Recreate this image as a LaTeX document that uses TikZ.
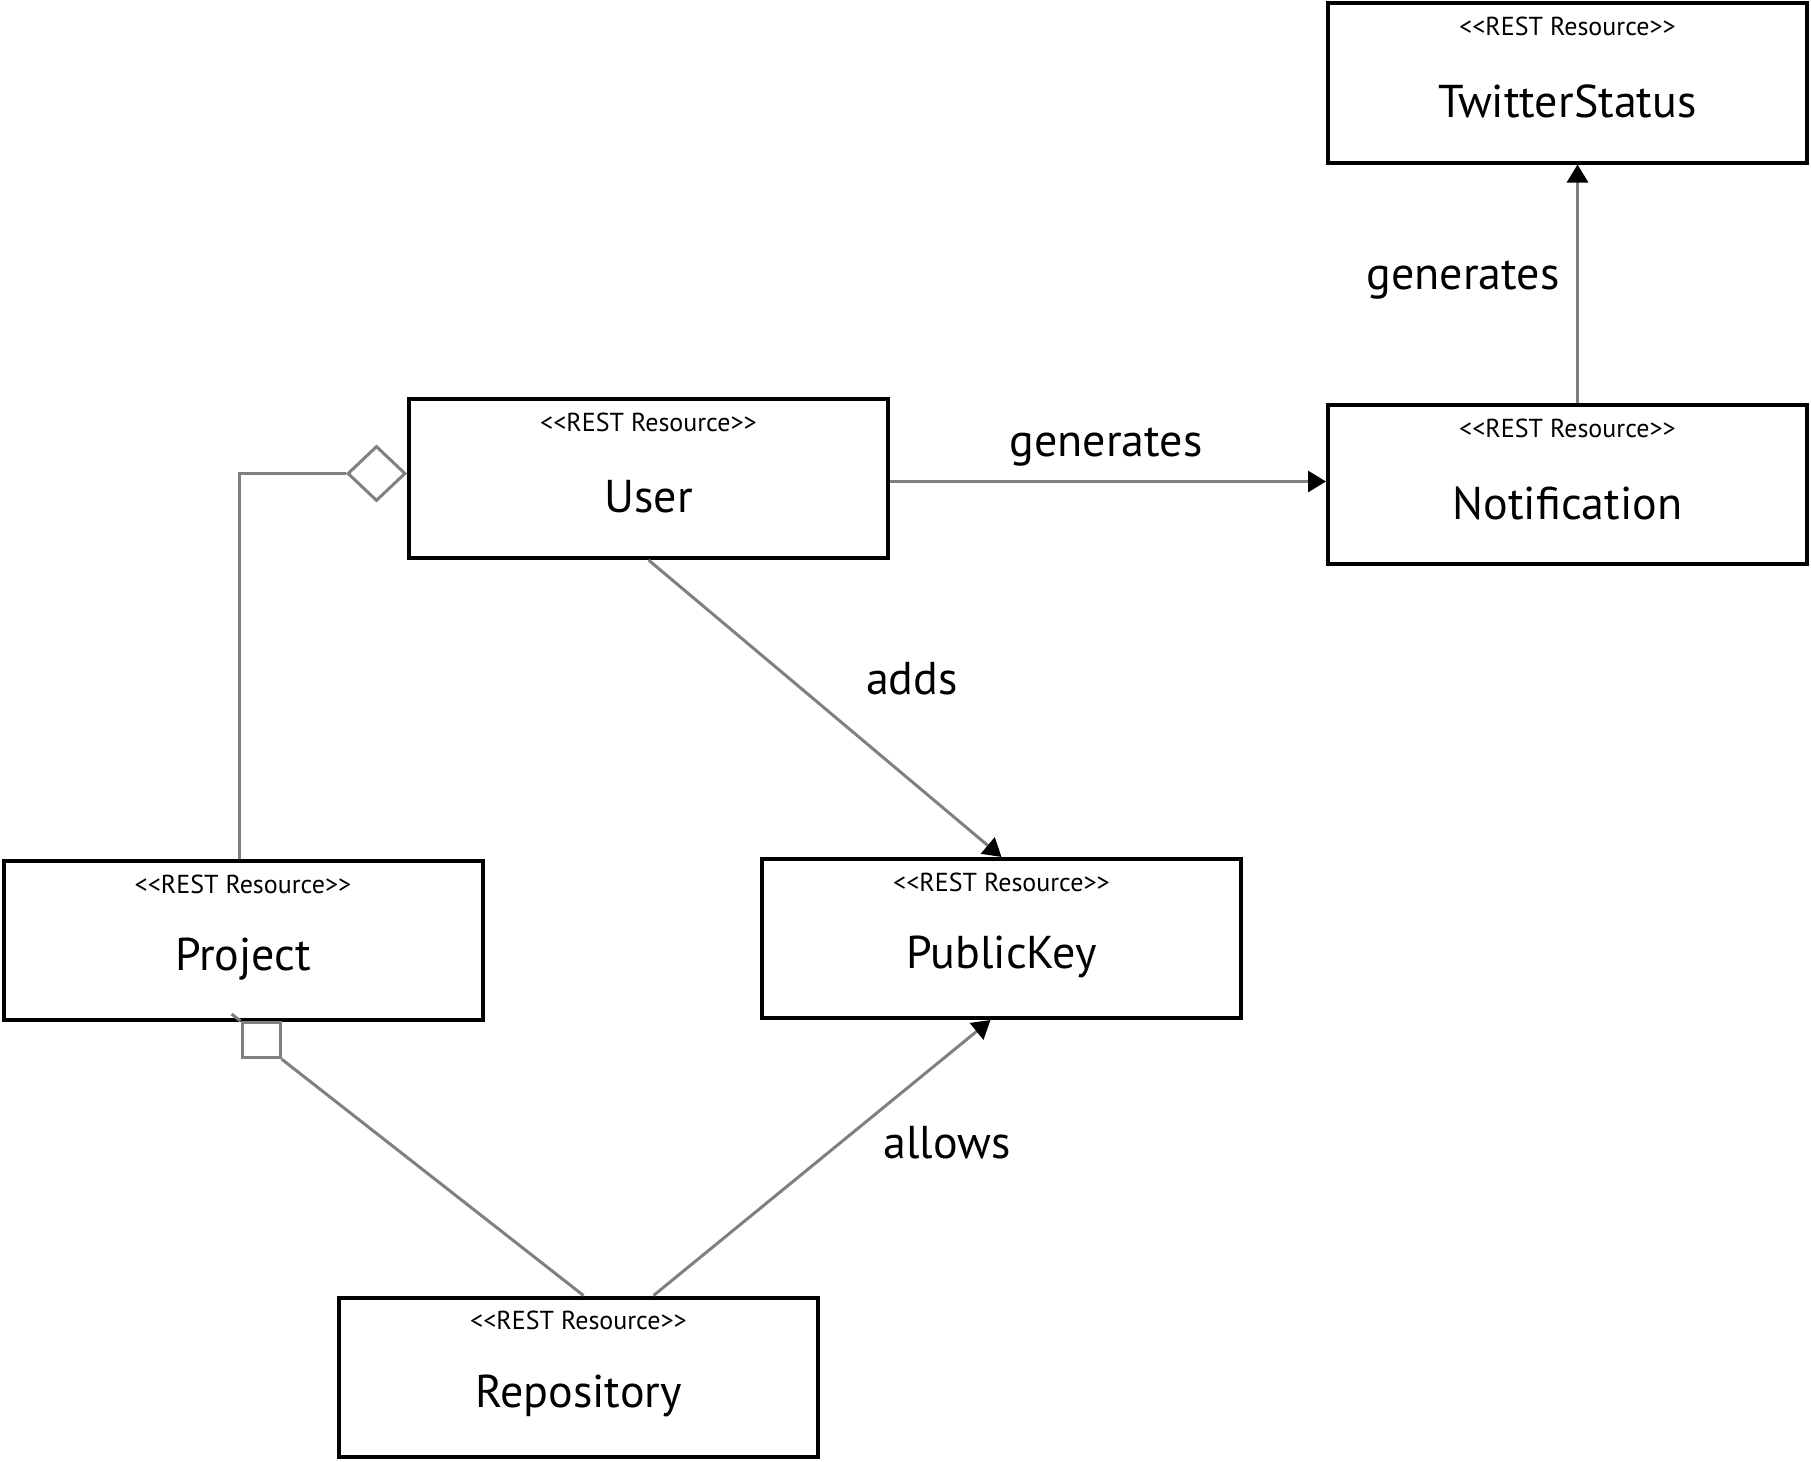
\documentclass[tikz,border=0pt]{standalone}
\usepackage{fontspec}
\setmainfont{PT Sans}
\usetikzlibrary{arrows.meta,calc,shapes.geometric}
\definecolor{cLine}{RGB}{128,128,130}
\definecolor{cBox}{RGB}{0,0,0}

% box with stereotype and title
\newcommand{\resource}[4]{%
  \node[rbox] (#1) at (#2,#3) {};
  \node[stereo] (#1S) at ($(#1.north)+(0,25)$) {<{}<REST Resource>{}>};
  \node[rtitle] (#1T) at ($(#1.north)+(0,100)$) {#4};
}

\begin{document}
\begin{tikzpicture}[x=1pt,y=-1pt,
  rbox/.style={draw=cBox,line width=4pt,minimum width=479pt,minimum height=159pt,inner sep=0pt},
  stereo/.style={font=\fontsize{26}{28}\selectfont,inner sep=0pt},
  rtitle/.style={font=\fontsize{46}{50}\selectfont,inner sep=0pt},
  lbl/.style={font=\fontsize{46}{50}\selectfont,inner sep=0pt},
  conn/.style={draw=cLine,line width=3pt},
  arr/.style={conn,-{Triangle[length=18pt,width=21pt,color=black]}},
  agg/.style={diamond,draw=cLine,line width=3pt,minimum width=58pt,minimum height=55pt,inner sep=0pt},
  comp/.style={rectangle,draw=cLine,line width=3pt,minimum width=38pt,minimum height=35pt,inner sep=0pt}]
\useasboundingbox (0,0) rectangle (1811,1461);

\resource{twitter}{1567.5}{83}{TwitterStatus}
\resource{notif}{1567.5}{484.5}{Notification}
\resource{user}{648.5}{478.5}{User}
\resource{project}{243}{940.5}{Project}
\resource{pubkey}{1001.5}{938.5}{PublicKey}
\resource{repo}{578.5}{1377}{Repository}

% user -> notification -> twitter
\draw[arr] ($(user.east)+(0,3)$) -- ($(user.east -| notif.west)+(0,3)$);
\node[lbl] (lGenA) at (1106,447) {generates};
\draw[arr] ($(notif.north)+(10,0)$) -- ($(twitter.south)+(10,0)$);
\node[lbl] (lGenB) at (1463,280) {generates};

% public keys
\draw[arr] (user.south) -- (pubkey.north);
\node[lbl] (lAdds) at (912,679) {adds};
\draw[arr] ($(repo.north)+(75,0)$) -- ($(pubkey.south)+(-11,0)$);
\node[lbl] (lAllows) at (947,1143) {allows};

% project aggregation and composition
\node[agg,anchor=east] (aggU) at ($(user.west)+(0,-5)$) {};
\draw[conn] (aggU.west) -| ($(project.north)+(-4,0)$);
\node[comp] (compP) at (261,1040) {};
\draw[conn] (compP.south east) -- ($(repo.north)+(5,0)$);
\draw[conn] (compP.north west) -- ++(-9,-7);
\end{tikzpicture}
\end{document}
